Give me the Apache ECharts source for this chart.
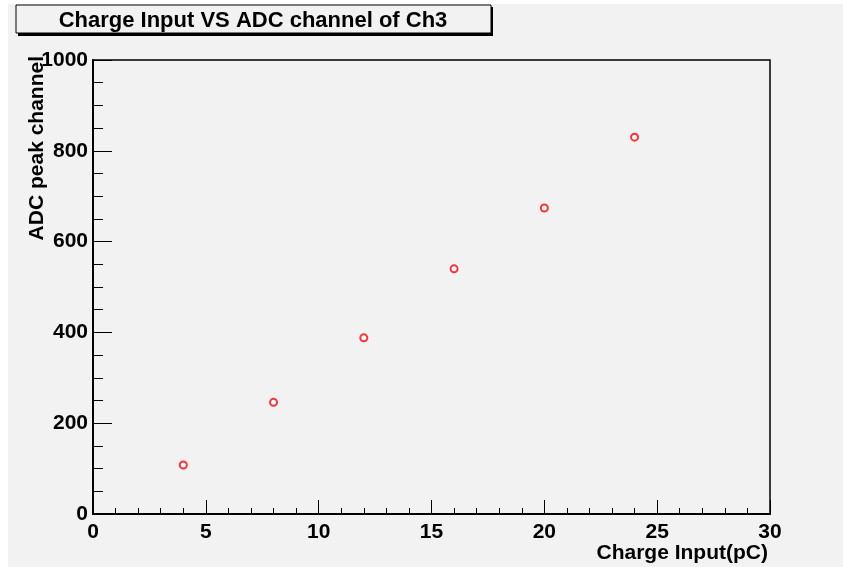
<!DOCTYPE html>
<html>
<head>
<meta charset="utf-8">
<script src="https://cdn.jsdelivr.net/npm/echarts@6/dist/echarts.min.js"></script>
<style>
    html, body {margin:0; padding:0; background:#fff;}
    #adc_chart {width:843px; height:567px;}
</style>
</head>
<body>
<div id="adc_chart"></div>
<script>
    // charge input (pC) vs ADC peak channel, Ch3
    var chargeInput = [4, 8, 12, 16, 20, 24];
    var adcPeak = [108, 246, 388, 540, 674, 830];
    var xTicks = [0, 5, 10, 15, 20, 25, 30];
    var yTicks = [0, 200, 400, 600, 800, 1000];

    var titleText = 'Charge Input VS ADC channel of Ch3';
    var xName = 'Charge Input(pC)';
    var yName = 'ADC peak channel';

    var font = '"Liberation Sans", Arial, Helvetica, sans-serif';

    var points = [];
    for (var i = 0; i < chargeInput.length; i++) {
        points.push([chargeInput[i], adcPeak[i]]);
    }

    var chart = echarts.init(document.getElementById('adc_chart'));

    var option = {
        backgroundColor: '#ffffff',
        animation: false,
        grid: {
            left: 93,
            right: 73,
            top: 60,
            bottom: 53,
            show: true,
            backgroundColor: 'transparent',
            borderColor: '#000',
            borderWidth: 1.5
        },
        graphic: [
            {//canvas background
                type: 'rect',
                z: -10,
                silent: true,
                shape: {x: 8, y: 4, width: 835, height: 563},
                style: {fill: '#f2f2f2'}
            },
            {//title box shadow
                type: 'rect',
                silent: true,
                shape: {x: 18, y: 7, width: 475, height: 29},
                style: {fill: '#000'}
            },
            {
                type: 'rect',
                silent: true,
                shape: {x: 16, y: 5, width: 475, height: 28},
                style: {fill: '#f2f2f2', stroke: '#000', lineWidth: 1}
            },
            {
                type: 'text',
                silent: true,
                x: 253,
                y: 21,
                style: {
                    text: titleText,
                    font: 'bold 22px ' + font,
                    fill: '#000',
                    align: 'center',
                    verticalAlign: 'middle'
                }
            },
            {
                type: 'text',
                silent: true,
                x: 768,
                y: 553,
                style: {
                    text: xName,
                    font: 'bold 21px ' + font,
                    fill: '#000',
                    align: 'right',
                    verticalAlign: 'middle'
                }
            },
            {
                type: 'text',
                silent: true,
                x: 37,
                y: 56,
                rotation: Math.PI / 2,
                style: {
                    text: yName,
                    font: 'bold 21px ' + font,
                    fill: '#000',
                    align: 'right',
                    verticalAlign: 'middle'
                }
            }
        ],
        xAxis: {
            type: 'value',
            min: xTicks[0],
            max: xTicks[xTicks.length - 1],
            interval: 5,
            axisLine: {show: true, onZero: false, lineStyle: {color: '#000', width: 2}},
            axisTick: {show: true, inside: true, length: 14, lineStyle: {color: '#000', width: 1}},
            minorTick: {show: true, splitNumber: 5, length: 6, lineStyle: {color: '#000', width: 1}},
            splitLine: {show: false},
            axisLabel: {
                margin: 8,
                color: '#000',
                fontWeight: 'bold',
                fontSize: 21,
                fontFamily: font,
                formatter: function (v) { return String(v); }
            }
        },
        yAxis: {
            type: 'value',
            min: yTicks[0],
            max: yTicks[yTicks.length - 1],
            interval: 200,
            axisLine: {show: true, onZero: false, lineStyle: {color: '#000', width: 2}},
            axisTick: {show: true, inside: true, length: 19, lineStyle: {color: '#000', width: 1}},
            minorTick: {show: true, splitNumber: 4, length: 10, lineStyle: {color: '#000', width: 1}},
            splitLine: {show: false},
            axisLabel: {
                margin: 5,
                color: '#000',
                fontWeight: 'bold',
                fontSize: 21,
                fontFamily: font,
                formatter: function (v) { return String(v); }
            }
        },
        series: [
            {
                type: 'scatter',
                data: points,
                symbol: 'emptyCircle',
                symbolSize: 7,
                itemStyle: {
                    color: '#ff0000',
                    borderColor: '#ff0000',
                    borderWidth: 1.2
                }
            }
        ]
    };

    chart.setOption(option);
</script>
</body>
</html>
